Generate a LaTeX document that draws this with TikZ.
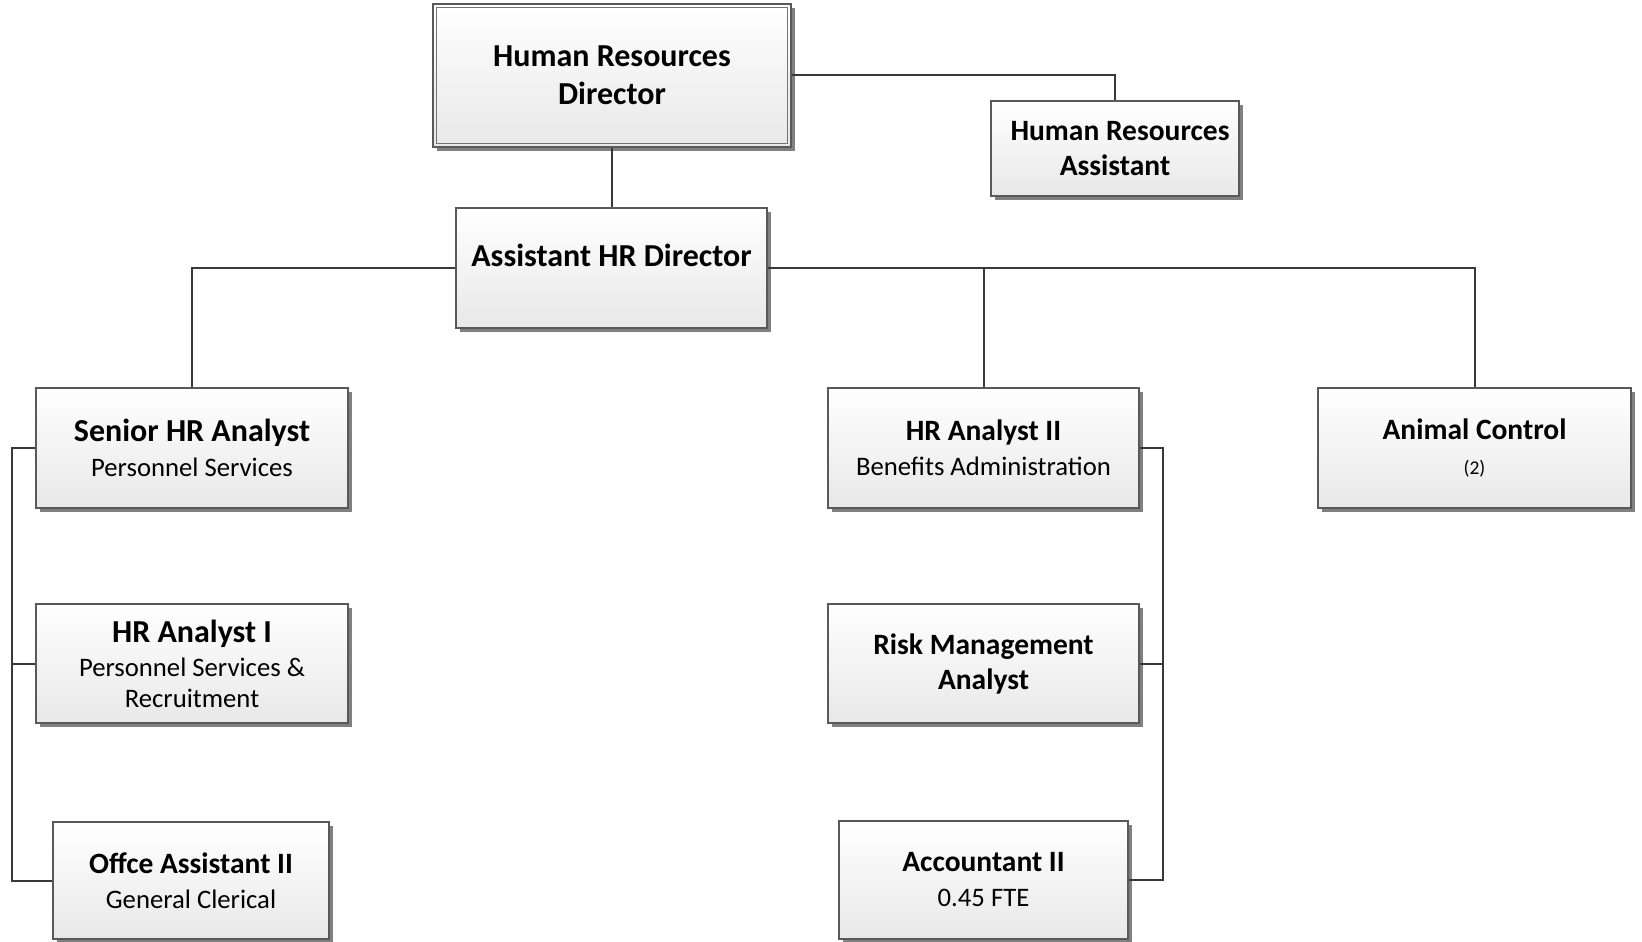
\documentclass[tikz,border=0pt]{standalone}
\usepackage{fontspec}
\setmainfont{Carlito}
\usetikzlibrary{shadows}
\begin{document}
\begin{tikzpicture}[x=1pt,y=-1pt,
  orgbox/.style={draw=black!65, line width=1.1pt, rectangle, inner sep=0pt,
    top color=white, bottom color=black!9, align=center, text=black,
    drop shadow={shadow xshift=4pt, shadow yshift=-4pt, fill=black!55, opacity=0.9}},
  bigtitle/.style={font=\fontsize{32}{36}\selectfont\bfseries},
  title/.style={font=\fontsize{29.5}{35}\selectfont\bfseries},
  link/.style={draw=black!78, line width=2pt}
]
\newcommand{\subtxt}{\fontsize{26.7}{35}\selectfont\mdseries}
\newcommand{\smalltxt}{\fontsize{19.5}{35}\selectfont\mdseries}

\useasboundingbox[fill=white] (0,0) rectangle (1642,942);

% top level
\node[orgbox, bigtitle, font=\fontsize{32}{38}\selectfont\bfseries,
  minimum width=358pt, minimum height=143pt] (dir) at (612,75.5)
  {Human Resources\\Director};
\draw[draw=black!55, line width=0.9pt] ([shift={(4,4)}]dir.north west) rectangle ([shift={(-4,-4)}]dir.south east);

\node[orgbox, title, minimum width=248pt, minimum height=95pt] (hra) at (1115,148.5)
  {\hspace*{10pt}Human Resources\\Assistant};

\node[orgbox, minimum width=311pt, minimum height=120pt] (ahr) at (611.5,268) {};
\node[bigtitle] (ahrt) at (611.5,255) {Assistant HR Director};

% left column
\node[orgbox, bigtitle, font=\fontsize{32}{35}\selectfont\bfseries,
  minimum width=312pt, minimum height=120pt] (sen) at (192,448)
  {Senior HR Analyst\\\subtxt Personnel Services};
\node[orgbox, bigtitle, font=\fontsize{32}{31}\selectfont\bfseries,
  minimum width=312pt, minimum height=119pt] (an1) at (192,663.5)
  {HR Analyst I\\[3pt]\fontsize{26.7}{31}\selectfont\mdseries Personnel Services \&\\\fontsize{26.7}{31}\selectfont\mdseries Recruitment};
\node[orgbox, title, minimum width=276pt, minimum height=117pt] (off) at (191,880.5)
  {Offce Assistant II\\\subtxt General Clerical};

% middle column
\node[orgbox, title, minimum width=311pt, minimum height=120pt] (an2) at (983.5,448)
  {HR Analyst II\\\subtxt Benefits Administration};
\node[orgbox, title, minimum width=311pt, minimum height=119pt] (risk) at (983.5,663.5)
  {Risk Management\\Analyst};
\node[orgbox, title, minimum width=289pt, minimum height=118pt] (acc) at (983.5,880)
  {Accountant II\\\subtxt 0.45 FTE};

% right column
\node[orgbox, title, minimum width=313pt, minimum height=120pt] (ani) at (1474.5,448)
  {Animal Control\\\smalltxt (2)};

% bus lines
\coordinate (busL) at (12,0);
\coordinate (busR) at (1163,0);

% connectors
\draw[link] (dir.east) -| (hra.north);
\draw[link] (dir.south) -- (dir.south |- ahr.north);
\draw[link] (ahr.west) -| (sen.north);
\draw[link] (ahr.east) -| (ani.north);
\draw[link] (ahr.east) -| (an2.north);

\draw[link] (sen.west) -- (busL |- sen.west) -- (busL |- off.west) -- (off.west);
\draw[link] (an1.west) -- (busL |- an1.west);

\draw[link] (an2.east) -- (busR |- an2.east) -- (busR |- acc.east) -- (acc.east);
\draw[link] (risk.east) -- (busR |- risk.east);
\end{tikzpicture}
\end{document}
